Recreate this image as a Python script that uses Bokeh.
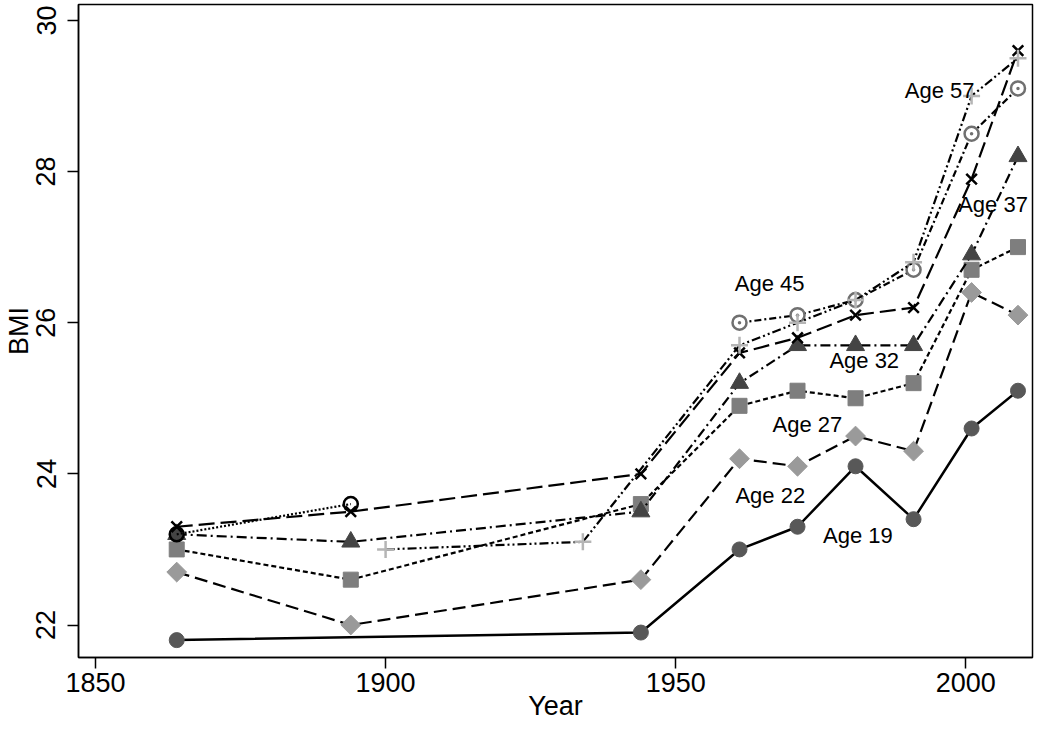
from bokeh.plotting import figure
from bokeh.models import Range1d, FixedTicker
from bokeh.core.properties import value
from bokeh.embed import file_html
from bokeh.resources import INLINE

# ---- data ----
years_19 = [1864, 1944, 1961, 1971, 1981, 1991, 2001, 2009]
bmi_19 = [21.8, 21.9, 23.0, 23.3, 24.1, 23.4, 24.6, 25.1]

years_main = [1864, 1894, 1944, 1961, 1971, 1981, 1991, 2001, 2009]
bmi_22 = [22.7, 22.0, 22.6, 24.2, 24.1, 24.5, 24.3, 26.4, 26.1]
bmi_27 = [23.0, 22.6, 23.6, 24.9, 25.1, 25.0, 25.2, 26.7, 27.0]
bmi_32 = [23.2, 23.1, 23.5, 25.2, 25.7, 25.7, 25.7, 26.9, 28.2]
bmi_37 = [23.3, 23.5, 24.0, 25.6, 25.8, 26.1, 26.2, 27.9, 29.6]

years_hist = [1864, 1894]
bmi_hist = [23.2, 23.6]

years_45 = [1961, 1971, 1981, 1991, 2001, 2009]
bmi_45 = [26.0, 26.1, 26.3, 26.7, 28.5, 29.1]

years_57 = [1900, 1934, 1961, 1971, 1981, 1991, 2001, 2009]
bmi_57 = [23.0, 23.1, 25.7, 26.0, 26.3, 26.8, 29.0, 29.5]

label_text = ["Age 57", "Age 37", "Age 45", "Age 32", "Age 27", "Age 22", "Age 19"]
label_x = [1995.5, 2004.7, 1966.2, 1982.5, 1972.7, 1966.3, 1981.4]
label_y = [29.07, 27.56, 26.52, 25.50, 24.65, 23.71, 23.19]

x_ticks = [1850, 1900, 1950, 2000]
y_ticks = [22, 24, 26, 28, 30]

FONT = "Liberation Sans"

p = figure(width=1034, height=723, output_backend="svg", toolbar_location=None,
           x_range=Range1d(1847.07, 2011.5), y_range=Range1d(21.57, 30.21),
           min_border_left=67, min_border_right=2, min_border_top=4, min_border_bottom=20)

p.xgrid.visible = False
p.ygrid.visible = False
p.outline_line_color = "black"
p.outline_line_width = 1.5
p.background_fill_color = "white"
p.border_fill_color = "white"

for ax in (p.xaxis[0], p.yaxis[0]):
    ax.axis_line_color = "black"
    ax.axis_line_width = 1.5
    ax.major_tick_line_color = "black"
    ax.major_tick_line_width = 1.5
    ax.major_tick_in = 0
    ax.major_tick_out = 11
    ax.minor_tick_line_color = None
    ax.major_label_text_font = FONT
    ax.major_label_text_font_size = "27px"
    ax.major_label_text_color = "black"
    ax.axis_label_text_font = FONT
    ax.axis_label_text_font_size = "27px"
    ax.axis_label_text_font_style = "normal"
    ax.axis_label_text_color = "black"

p.xaxis.ticker = FixedTicker(ticks=x_ticks)
p.yaxis.ticker = FixedTicker(ticks=y_ticks)
p.xaxis.axis_label = "Year"
p.yaxis.axis_label = "BMI"
p.yaxis.major_label_orientation = "vertical"
p.xaxis.major_label_standoff = 4
p.xaxis.axis_label_standoff = -4
p.yaxis.major_label_standoff = 12
p.yaxis.axis_label_standoff = 0

LW = 2.2

# Age 19
p.line(years_19, bmi_19, line_color="black", line_width=2.5)
p.scatter(years_19, bmi_19, marker="circle", size=15, fill_color="#585858", line_color="#585858")

# Age 22
p.line(years_main, bmi_22, line_color="black", line_width=LW, line_dash="13 6")
p.scatter(years_main, bmi_22, marker="square", angle=0.7854, size=14,
          fill_color="#9a9a9a", line_color="#9a9a9a")

# Age 27
p.line(years_main, bmi_27, line_color="black", line_width=LW, line_dash="5 3")
p.scatter(years_main, bmi_27, marker="square", size=15, fill_color="#7e7e7e", line_color="#7e7e7e")

# Age 32
p.line(years_main, bmi_32, line_color="black", line_width=LW, line_dash="10 4 2 4")
p.scatter(years_main, bmi_32, marker="triangle", size=18, fill_color="#444444", line_color="#444444")

# historical open circles
p.line(years_hist, bmi_hist, line_color="black", line_width=LW, line_dash="2 2")
p.scatter(years_hist, bmi_hist, marker="circle", size=14, fill_alpha=0,
          line_color="black", line_width=2.5)

# Age 37
p.line(years_main, bmi_37, line_color="black", line_width=LW, line_dash="16 6")
p.scatter(years_main, bmi_37, marker="x", size=15, line_color="black", line_width=2.5)

# Age 45
p.line(years_45, bmi_45, line_color="black", line_width=LW, line_dash="7 3 2 3")
p.scatter(years_45, bmi_45, marker="circle_dot", size=14, fill_color="white",
          line_color="#707070", line_width=2.5)

# Age 57
p.line(years_57, bmi_57, line_color="black", line_width=LW, line_dash="9 3 2 3 2 3")
p.scatter(years_57, bmi_57, marker="cross", size=17, line_color="#b5b5b5", line_width=2.5)

p.text(x=label_x, y=label_y, text=label_text, text_font=value(FONT),
       text_font_size="22px", text_align="center", text_baseline="middle", text_color="black")

open("out.html", "w").write(file_html(p, INLINE))
